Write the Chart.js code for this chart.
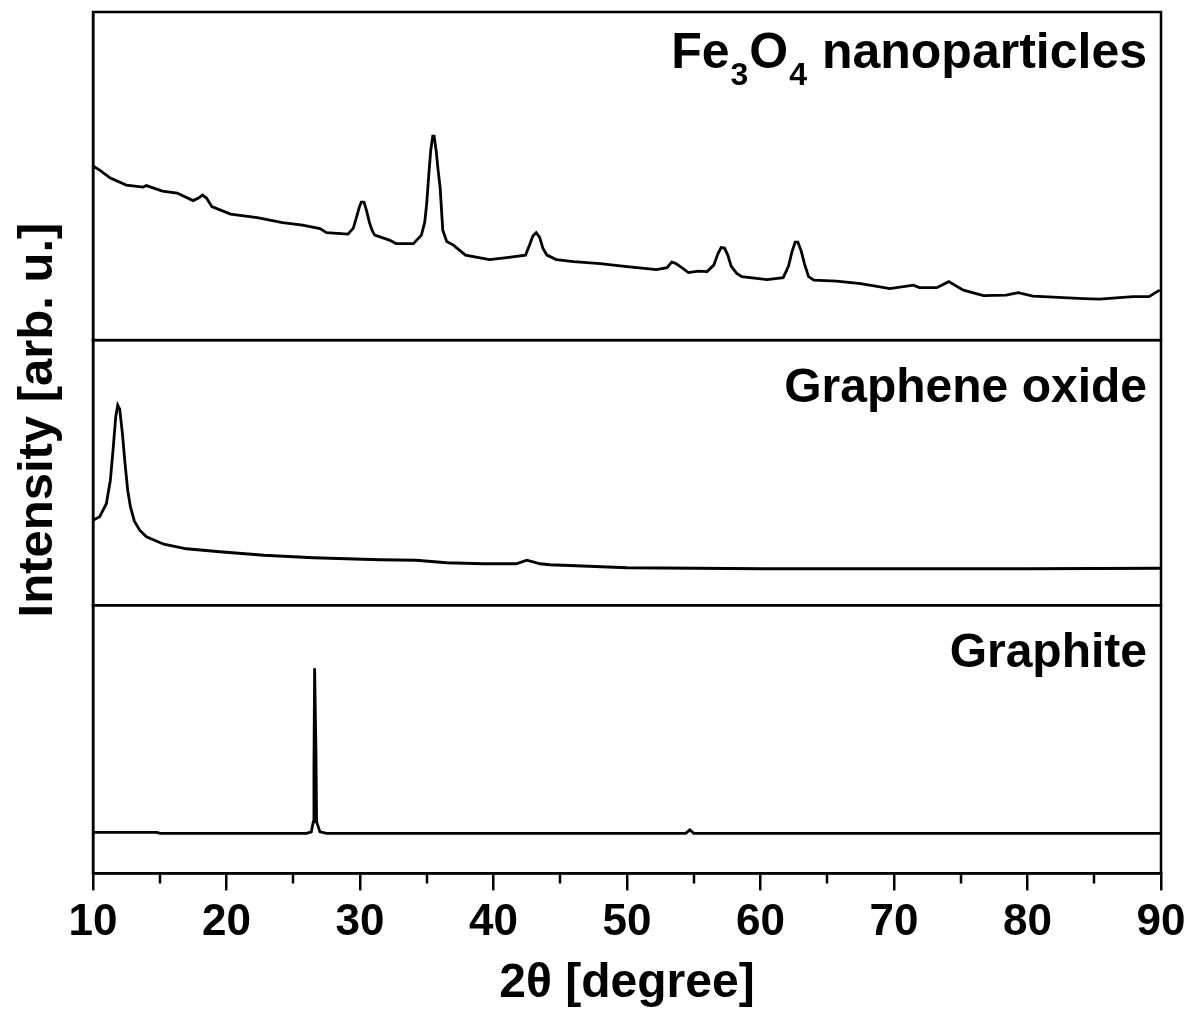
<!DOCTYPE html>
<html>
<head>
<meta charset="utf-8">
<script src="https://cdn.jsdelivr.net/npm/chart.js@4.4.1/dist/chart.umd.min.js"></script>
<style>
  html, body { margin: 0; padding: 0; background: #fff; }
  #wrap { width: 1192px; height: 1010px; }
</style>
</head>
<body>
<div id="wrap"><canvas id="c" width="1192" height="1010"></canvas></div>
<script>
// ---- Data (2θ in degrees, intensity in arbitrary units per panel) ----
const feX = [10.0,10.5,11.3,12.5,13.75,14.0,15.2,16.3,17.5,17.9,18.2,18.5,18.9,20.3,22.3,24.2,25.7,27.0,27.5,29.1,29.5,29.75,29.95,30.1,30.3,30.5,30.7,30.9,31.1,32.2,32.7,34.0,34.6,34.85,35.0,35.15,35.3,35.45,35.55,35.7,35.85,36.0,36.2,36.5,37.0,37.9,39.7,41.0,42.4,42.7,42.95,43.2,43.45,43.7,44.0,44.7,46.0,48.0,50.0,52.2,53.0,53.35,53.6,54.0,54.6,55.35,56.0,56.5,56.8,57.05,57.3,57.55,57.8,58.2,58.6,60.5,61.7,62.1,62.35,62.6,62.8,63.05,63.3,63.6,64.0,65.7,67.5,69.7,71.45,71.9,73.2,74.1,75.2,76.7,78.4,79.3,80.4,84.2,85.4,87.9,89.1,89.9];
const feY = [174,170,162,155,153,154.5,149,147,139.5,142,145,142,133.5,126,122.5,117.5,115,111.5,107.5,106,112,123.5,133,138,138,129,118,110,105,100,96.5,96.5,105,118,137,165,190,204,204,190,170,153,110,98.5,95,85,80.5,82.5,85,95,104,107.5,103,92,85,80.5,78.5,76.5,73.5,70.5,72.5,78,77,73.5,67.5,69,68.5,75,86,92.5,92,85,74,67,63.5,60.5,62.5,74,88,98,98,89,76,63.5,60,59,56.5,51.5,55,52.5,52.5,58.5,50,44.5,45,47.5,44,41.5,41,43.5,43.5,50];

const goX = [10.0,10.5,11.0,11.3,11.5,11.7,11.85,12.0,12.2,12.4,12.6,12.8,13.1,13.5,14.0,15.3,17.0,19.5,22.8,26.5,31.5,34.2,36.5,39.2,41.7,42.5,43.5,44.2,46.2,50.0,60.2,70.0,80.0,90.0];
const goY = [85,88.5,101.5,125,155,188,200,196,172,141.5,115,98.5,84,75,68.5,61,56.5,53.5,50,47.5,45.5,45,42.5,41.5,41.5,45,41.5,40.5,39.5,37.5,36.5,36.5,36.5,37];

const grX = [10.0,14.8,15.0,26.0,26.35,26.5,26.55,26.6,26.7,26.75,27.0,27.5,54.4,54.7,55.0,90.0];
const grY = [41,41,40,40,41.5,51.5,106,205,123,51.5,41.5,40,40,43.5,40,40];

const xTicks = [10,20,30,40,50,60,70,80,90];
const xMinorTicks = [15,25,35,45,55,65,75,85];
const panelLabels = ['Fe3O4 nanoparticles', 'Graphene oxide', 'Graphite'];
const yTitle = 'Intensity [arb. u.]';
const xTitle = '2\u03b8 [degree]';

const toPts = (xs, ys) => xs.map((x, i) => ({x: x, y: ys[i]}));

const FONT = '"Liberation Sans", Arial, sans-serif';
const LW = 2.5;

const framePlugin = {
  id: 'frame',
  afterDraw(chart) {
    const ctx = chart.ctx;
    const a = chart.chartArea;
    ctx.save();
    ctx.strokeStyle = '#000';
    ctx.lineWidth = LW;
    ['yFe', 'yGO', 'yGr'].forEach(id => {
      const s = chart.scales[id];
      ctx.strokeRect(a.left, s.top, a.right - a.left, s.bottom - s.top);
    });
    // minor ticks
    const xs = chart.scales.x;
    ctx.beginPath();
    xMinorTicks.forEach(v => {
      const px = Math.round(xs.getPixelForValue(v));
      ctx.moveTo(px, a.bottom);
      ctx.lineTo(px, a.bottom + 10);
    });
    ctx.stroke();

    // panel labels
    ctx.fillStyle = '#000';
    ctx.textBaseline = 'alphabetic';
    const rx = a.right - 14;
    const big = 'bold 48px ' + FONT;
    const bigFe = 'bold 50px ' + FONT;
    const small = 'bold 32px ' + FONT;
    // Fe3O4 nanoparticles with subscripts
    const sFe = chart.scales.yFe;
    const base1 = sFe.top + 56;
    const parts = [['Fe', bigFe, 0], ['3', small, 17], ['O', bigFe, 0], ['4', small, 17], [' nanoparticles', bigFe, 0]];
    let total = 0;
    parts.forEach(p => { ctx.font = p[1]; total += ctx.measureText(p[0]).width + (p[1] === small ? 2 : 0); });
    let x = rx - total;
    ctx.textAlign = 'left';
    parts.forEach(p => {
      ctx.font = p[1];
      const extra = p[1] === small ? 1 : 0;
      ctx.fillText(p[0], x + extra, base1 + p[2]);
      x += ctx.measureText(p[0]).width + 2 * extra;
    });
    ctx.textAlign = 'right';
    ctx.font = big;
    ctx.fillText(panelLabels[1], rx, chart.scales.yGO.top + 62);
    ctx.fillText(panelLabels[2], rx, chart.scales.yGr.top + 62);

    // y title
    ctx.save();
    ctx.translate(38, 420);
    ctx.rotate(-Math.PI / 2);
    ctx.textAlign = 'center';
    ctx.textBaseline = 'middle';
    ctx.font = 'bold 49px ' + FONT;
    ctx.fillText(yTitle, 0, 0);
    ctx.restore();
    ctx.restore();
  }
};

const yCommon = {
  type: 'linear',
  position: 'left',
  stack: 'panels',
  offset: false,
  ticks: { display: false },
  grid: { display: false, drawTicks: false },
  border: { display: true, color: '#000', width: LW },
  title: { display: false }
};

const ds = (label, pts, axis) => ({
  label: label,
  data: pts,
  yAxisID: axis,
  borderColor: '#000',
  borderWidth: 2.8,
  pointRadius: 0,
  tension: 0,
  fill: false
});

new Chart(document.getElementById('c'), {
  type: 'line',
  data: {
    datasets: [
      ds(panelLabels[0], toPts(feX, feY), 'yFe'),
      ds(panelLabels[1], toPts(goX, goY), 'yGO'),
      ds(panelLabels[2], toPts(grX, grY), 'yGr')
    ]
  },
  options: {
    responsive: false,
    animation: false,
    devicePixelRatio: 1,
    layout: { padding: { left: 93, right: 31, top: 12, bottom: 0 } },
    plugins: { legend: { display: false }, tooltip: { enabled: false } },
    scales: {
      x: {
        type: 'linear',
        min: 10, max: 90,
        afterBuildTicks: (s) => { s.ticks = xTicks.map(v => ({ value: v })); },
        ticks: {
          color: '#000',
          padding: 6,
          maxRotation: 0,
          font: { family: FONT, size: 44, weight: 'bold' }
        },
        grid: { display: true, drawOnChartArea: false, drawTicks: true, tickLength: 17, color: '#000', lineWidth: LW },
        border: { display: true, color: '#000', width: LW },
        title: {
          display: true,
          text: xTitle,
          color: '#000',
          padding: { top: 2, bottom: 0 },
          font: { family: FONT, size: 48, weight: 'bold', lineHeight: 1.1 }
        }
      },
      // stacked axes: first defined is placed at the bottom
      yGr: Object.assign({}, yCommon, { min: 0, max: 268, stackWeight: 268 }),
      yGO: Object.assign({}, yCommon, { min: 0, max: 265, stackWeight: 265 }),
      yFe: Object.assign({}, yCommon, { min: 0, max: 328, stackWeight: 328 })
    }
  },
  plugins: [framePlugin]
});
</script>
</body>
</html>
